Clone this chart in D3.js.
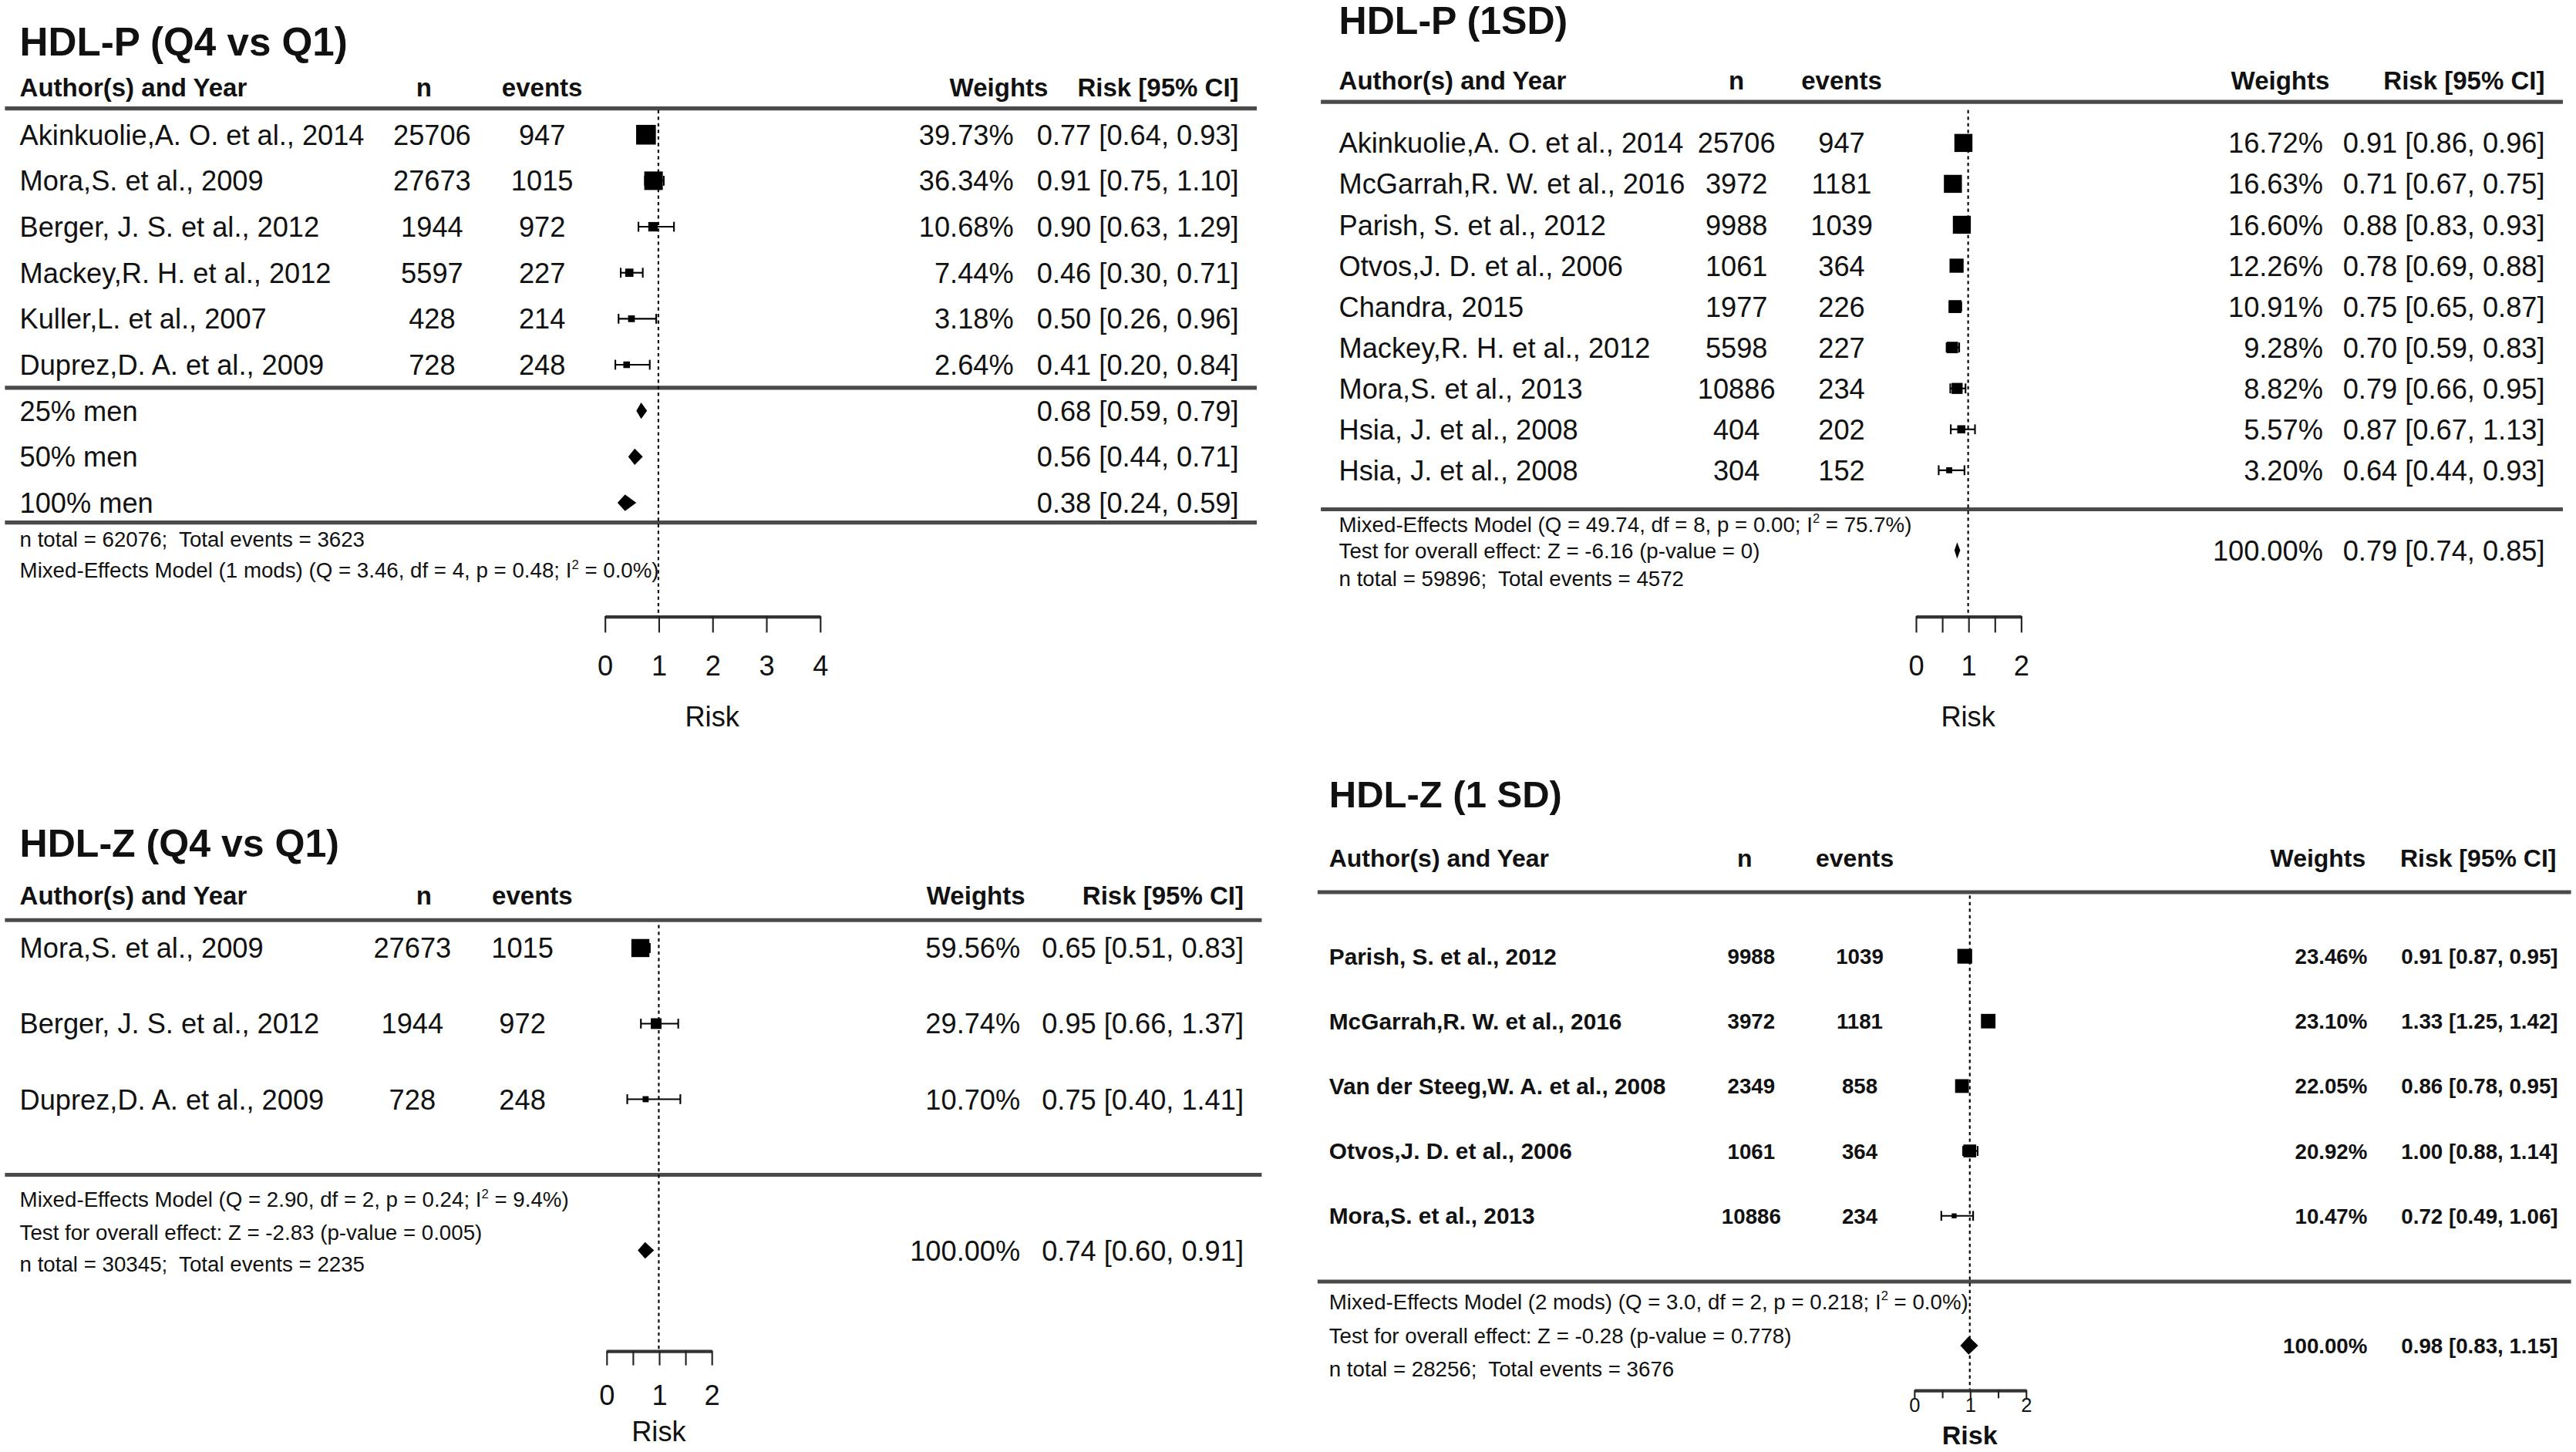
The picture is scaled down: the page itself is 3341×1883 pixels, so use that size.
<!DOCTYPE html>
<html>
<head>
<meta charset="utf-8">
<script src="https://cdn.jsdelivr.net/npm/d3@7"></script>
<style>
  body { margin: 0; background: #fff; }
  svg { display: block; }
  text { font-family: "Liberation Sans", Arial, sans-serif; fill: #111; white-space: pre; }
</style>
</head>
<body>
<div class="chart"></div>
<script>
// ---- HDL-P (Q4 vs Q1)
var aAuthors = ["Akinkuolie,A. O. et al., 2014", "Mora,S. et al., 2009", "Berger, J. S. et al., 2012",
                "Mackey,R. H. et al., 2012", "Kuller,L. et al., 2007", "Duprez,D. A. et al., 2009"]
var aN = [25706, 27673, 1944, 5597, 428, 728]
var aEvents = [947, 1015, 972, 227, 214, 248]
var aWeights = [39.73, 36.34, 10.68, 7.44, 3.18, 2.64]
var aEst = [0.77, 0.91, 0.90, 0.46, 0.50, 0.41]
var aLo = [0.64, 0.75, 0.63, 0.30, 0.26, 0.20]
var aHi = [0.93, 1.10, 1.29, 0.71, 0.96, 0.84]
var aSumLabels = ["25% men", "50% men", "100% men"]
var aSumEst = [0.68, 0.56, 0.38]
var aSumLo = [0.59, 0.44, 0.24]
var aSumHi = [0.79, 0.71, 0.59]
var aNotes = ["n total = 62076;  Total events = 3623",
              "Mixed-Effects Model (1 mods) (Q = 3.46, df = 4, p = 0.48; I² = 0.0%)"]
var aTicks = [0, 1, 2, 3, 4]

// ---- HDL-P (1SD)
var bAuthors = ["Akinkuolie,A. O. et al., 2014", "McGarrah,R. W. et al., 2016", "Parish, S. et al., 2012",
                "Otvos,J. D. et al., 2006", "Chandra, 2015", "Mackey,R. H. et al., 2012",
                "Mora,S. et al., 2013", "Hsia, J. et al., 2008", "Hsia, J. et al., 2008"]
var bN = [25706, 3972, 9988, 1061, 1977, 5598, 10886, 404, 304]
var bEvents = [947, 1181, 1039, 364, 226, 227, 234, 202, 152]
var bWeights = [16.72, 16.63, 16.60, 12.26, 10.91, 9.28, 8.82, 5.57, 3.20]
var bEst = [0.91, 0.71, 0.88, 0.78, 0.75, 0.70, 0.79, 0.87, 0.64]
var bLo = [0.86, 0.67, 0.83, 0.69, 0.65, 0.59, 0.66, 0.67, 0.44]
var bHi = [0.96, 0.75, 0.93, 0.88, 0.87, 0.83, 0.95, 1.13, 0.93]
var bOverall = [0.79, 0.74, 0.85]
var bNotes = ["Mixed-Effects Model (Q = 49.74, df = 8, p = 0.00; I² = 75.7%)",
              "Test for overall effect: Z = -6.16 (p-value = 0)",
              "n total = 59896;  Total events = 4572"]
var bTicks = [0, 0.5, 1, 1.5, 2]

// ---- HDL-Z (Q4 vs Q1)
var cAuthors = ["Mora,S. et al., 2009", "Berger, J. S. et al., 2012", "Duprez,D. A. et al., 2009"]
var cN = [27673, 1944, 728]
var cEvents = [1015, 972, 248]
var cWeights = [59.56, 29.74, 10.70]
var cEst = [0.65, 0.95, 0.75]
var cLo = [0.51, 0.66, 0.40]
var cHi = [0.83, 1.37, 1.41]
var cOverall = [0.74, 0.60, 0.91]
var cNotes = ["Mixed-Effects Model (Q = 2.90, df = 2, p = 0.24; I² = 9.4%)",
              "Test for overall effect: Z = -2.83 (p-value = 0.005)",
              "n total = 30345;  Total events = 2235"]
var cTicks = [0, 0.5, 1, 1.5, 2]

// ---- HDL-Z (1 SD)
var dAuthors = ["Parish, S. et al., 2012", "McGarrah,R. W. et al., 2016", "Van der Steeg,W. A. et al., 2008",
                "Otvos,J. D. et al., 2006", "Mora,S. et al., 2013"]
var dN = [9988, 3972, 2349, 1061, 10886]
var dEvents = [1039, 1181, 858, 364, 234]
var dWeights = [23.46, 23.10, 22.05, 20.92, 10.47]
var dEst = [0.91, 1.33, 0.86, 1.00, 0.72]
var dLo = [0.87, 1.25, 0.78, 0.88, 0.49]
var dHi = [0.95, 1.42, 0.95, 1.14, 1.06]
var dOverall = [0.98, 0.83, 1.15]
var dNotes = ["Mixed-Effects Model (2 mods) (Q = 3.0, df = 2, p = 0.218; I² = 0.0%)",
              "Test for overall effect: Z = -0.28 (p-value = 0.778)",
              "n total = 28256;  Total events = 3676"]
var dTicks = [0, 0.5, 1, 1.5, 2]

var W = 3341, H = 1883
var vbW = 1568, vbH = vbW * H / W

var svg = d3.select(".chart").append("svg")
  .attr("width", W).attr("height", H)
  .attr("viewBox", `0 0 ${vbW} ${vbH}`)
svg.append("rect").attr("width", vbW).attr("height", vbH).attr("fill", "#fff")

var f2 = d3.format(".2f")
var ci = (e, l, h) => `${f2(e)} [${f2(l)}, ${f2(h)}]`

// text helper, handles the I² superscript
function txt(g, s, x, y, size, anchor, bold) {
  var t = g.append("text").attr("x", x).attr("y", y).attr("dy", (size * 0.36) + "px")
    .attr("text-anchor", anchor || "start")
    .style("font-size", size + "px")
    .style("font-weight", bold ? "bold" : "normal")
  var parts = s.split("²")
  t.append("tspan").text(parts[0])
  if (parts.length > 1) {
    var up = size * 0.42
    t.append("tspan").attr("dy", -up + "px").style("font-size", (size * 0.6) + "px").text("2")
    t.append("tspan").attr("dy", up + "px").text(parts[1])
  }
  return t
}

function diamond(g, x, yc, est, lo, hi, h) {
  g.append("path")
    .attr("d", `M${x(lo)},${yc} L${x(est)},${yc - h / 2} L${x(hi)},${yc} L${x(est)},${yc + h / 2} Z`)
    .attr("fill", "#000")
}

function drawPanel(d, L) {
  var g = svg.append("g")
  var x = d3.scaleLinear().domain(L.domain).range(L.range)
  var k = d.authors.length
  var y = d3.scaleLinear().domain([0, k - 1]).range([L.row0, L.row0 + L.dy * (k - 1)])
  var size = d3.scaleLinear().domain(d3.extent(d.weights)).range([L.box / 3, L.box])

  txt(g, d.title, L.left, L.titleY, L.titleSize, "start", true)

  // header
  txt(g, "Author(s) and Year", L.left, L.headY, L.headSize, "start", true)
  txt(g, "n", L.hN, L.headY, L.headSize, "middle", true)
  txt(g, "events", L.hEv, L.headY, L.headSize, "middle", true)
  txt(g, "Weights", L.hW, L.headY, L.headSize, "end", true)
  txt(g, "Risk [95% CI]", L.hR, L.headY, L.headSize, "end", true)

  // horizontal rules
  L.rules.forEach(function (ry) {
    g.append("line").attr("x1", L.x1).attr("x2", L.x2).attr("y1", ry).attr("y2", ry)
      .attr("stroke", "#4a4a4a").attr("stroke-width", 2.4)
  })

  // reference line at 1
  g.append("line").attr("x1", x(1)).attr("x2", x(1)).attr("y1", L.dashTop).attr("y2", L.axisY)
    .attr("stroke", "#000").attr("stroke-width", 1).attr("stroke-dasharray", "2,2")

  // study rows
  d.authors.forEach(function (a, i) {
    var yy = y(i)
    txt(g, a, L.left, yy, L.rowSize, "start", L.rowBold)
    txt(g, String(d.n[i]), L.cN, yy, L.numSize, "middle", L.rowBold)
    txt(g, String(d.events[i]), L.cEv, yy, L.numSize, "middle", L.rowBold)
    txt(g, f2(d.weights[i]) + "%", L.cW, yy, L.numSize, "end", L.rowBold)
    txt(g, ci(d.est[i], d.lo[i], d.hi[i]), L.cR, yy, L.numSize, "end", L.rowBold)

    g.append("line").attr("x1", x(d.lo[i])).attr("x2", x(d.hi[i])).attr("y1", yy).attr("y2", yy)
      .attr("stroke", "#000").attr("stroke-width", 1)
    ;[d.lo[i], d.hi[i]].forEach(function (v) {
      g.append("line").attr("x1", x(v)).attr("x2", x(v)).attr("y1", yy - L.cap).attr("y2", yy + L.cap)
        .attr("stroke", "#000").attr("stroke-width", 1)
    })
    var s = size(d.weights[i])
    g.append("rect").attr("x", x(d.est[i]) - s / 2).attr("y", yy - s / 2)
      .attr("width", s).attr("height", s).attr("fill", "#000")
  })

  // subgroup summaries
  if (d.sumLabels) {
    d.sumLabels.forEach(function (lab, i) {
      var yy = L.sumY[i]
      txt(g, lab, L.left, yy, L.rowSize, "start", false)
      txt(g, ci(d.sumEst[i], d.sumLo[i], d.sumHi[i]), L.cR, yy, L.numSize, "end", false)
      diamond(g, x, yy, d.sumEst[i], d.sumLo[i], d.sumHi[i], L.diaH)
    })
  }

  // overall
  if (d.overall) {
    var o = d.overall
    txt(g, "100.00%", L.cW, L.ovY, L.numSize, "end", L.rowBold)
    txt(g, ci(o[0], o[1], o[2]), L.cR, L.ovY, L.numSize, "end", L.rowBold)
    diamond(g, x, L.ovY, o[0], o[1], o[2], L.diaH)
  }

  d.notes.forEach(function (s, i) {
    txt(g, s, L.left, L.noteY[i], L.noteSize, "start", false)
  })

  // axis
  var ax = g.append("g").attr("transform", `translate(0,${L.axisY})`)
    .call(d3.axisBottom(x).tickValues(d.ticks).tickSize(L.tickLen).tickSizeOuter(0)
      .tickPadding(L.tickPad)
      .tickFormat(v => Number.isInteger(v) ? String(v) : ""))
  ax.select(".domain").attr("stroke", "#333").attr("stroke-width", 2)
  ax.selectAll(".tick line").attr("stroke", "#222").attr("stroke-width", 1)
  ax.selectAll(".tick text").filter(v => !Number.isInteger(v)).remove()
  ax.selectAll(".tick text")
    .style("font-family", '"Liberation Sans", Arial, sans-serif')
    .style("font-size", L.tickSize + "px").attr("fill", "#111")
  txt(g, "Risk", (L.range[0] + L.range[1]) / 2, L.riskY, L.riskSize, "middle", L.riskBold)
}

drawPanel(
  { title: "HDL-P (Q4 vs Q1)", authors: aAuthors, n: aN, events: aEvents, weights: aWeights,
    est: aEst, lo: aLo, hi: aHi, sumLabels: aSumLabels, sumEst: aSumEst, sumLo: aSumLo, sumHi: aSumHi,
    notes: aNotes, ticks: aTicks },
  { left: 12, titleY: 25, titleSize: 24, headY: 53, headSize: 15.5,
    hN: 258, hEv: 330, hW: 638, hR: 754, x1: 3, x2: 765, rules: [66, 236, 318],
    row0: 82, dy: 28, rowSize: 17, numSize: 17, rowBold: false,
    cN: 263, cEv: 330, cW: 617, cR: 754, sumY: [250, 278, 306], noteY: [328, 347], noteSize: 13,
    domain: [0, 4], range: [368, 499], dashTop: 67, axisY: 375, tickLen: 10, tickPad: 14, tickSize: 17,
    riskY: 436, riskSize: 17, riskBold: false, box: 12, cap: 3, diaH: 10 })

drawPanel(
  { title: "HDL-P (1SD)", authors: bAuthors, n: bN, events: bEvents, weights: bWeights,
    est: bEst, lo: bLo, hi: bHi, overall: bOverall, notes: bNotes, ticks: bTicks },
  { left: 815, titleY: 12, titleSize: 23.5, headY: 49, headSize: 15.5,
    hN: 1057, hEv: 1121, hW: 1418, hR: 1549, x1: 804, x2: 1560, rules: [62, 310],
    row0: 87, dy: 24.9, rowSize: 17, numSize: 17, rowBold: false,
    cN: 1057, cEv: 1121, cW: 1414, cR: 1549, ovY: 335, noteY: [319, 335, 352], noteSize: 13,
    domain: [0, 2], range: [1166, 1230], dashTop: 67, axisY: 375, tickLen: 10, tickPad: 14, tickSize: 17,
    riskY: 436, riskSize: 17, riskBold: false, box: 11, cap: 3, diaH: 10 })

drawPanel(
  { title: "HDL-Z (Q4 vs Q1)", authors: cAuthors, n: cN, events: cEvents, weights: cWeights,
    est: cEst, lo: cLo, hi: cHi, overall: cOverall, notes: cNotes, ticks: cTicks },
  { left: 12, titleY: 513, titleSize: 23.5, headY: 545, headSize: 15.5,
    hN: 258, hEv: 324, hW: 624, hR: 757, x1: 3, x2: 768, rules: [560, 715],
    row0: 577, dy: 46, rowSize: 17, numSize: 17, rowBold: false,
    cN: 251, cEv: 318, cW: 621, cR: 757, ovY: 761, noteY: [730, 750, 769], noteSize: 13,
    domain: [0, 2], range: [369, 433], dashTop: 563, axisY: 822, tickLen: 9, tickPad: 12, tickSize: 17,
    riskY: 871, riskSize: 17, riskBold: false, box: 11, cap: 3, diaH: 10 })

drawPanel(
  { title: "HDL-Z (1 SD)", authors: dAuthors, n: dN, events: dEvents, weights: dWeights,
    est: dEst, lo: dLo, hi: dHi, overall: dOverall, notes: dNotes, ticks: dTicks },
  { left: 809, titleY: 483, titleSize: 23, headY: 522, headSize: 15,
    hN: 1062, hEv: 1129, hW: 1440, hR: 1556, x1: 802, x2: 1565, rules: [543, 780],
    row0: 582, dy: 39.5, rowSize: 14, numSize: 13, rowBold: true,
    cN: 1066, cEv: 1132, cW: 1441, cR: 1557, ovY: 819, noteY: [792, 813, 833], noteSize: 13,
    domain: [0, 2], range: [1165, 1233], dashTop: 545, axisY: 846, tickLen: 5, tickPad: 0, tickSize: 12,
    riskY: 873.5, riskSize: 16, riskBold: true, box: 9, cap: 3, diaH: 11 })
</script>
</body>
</html>
